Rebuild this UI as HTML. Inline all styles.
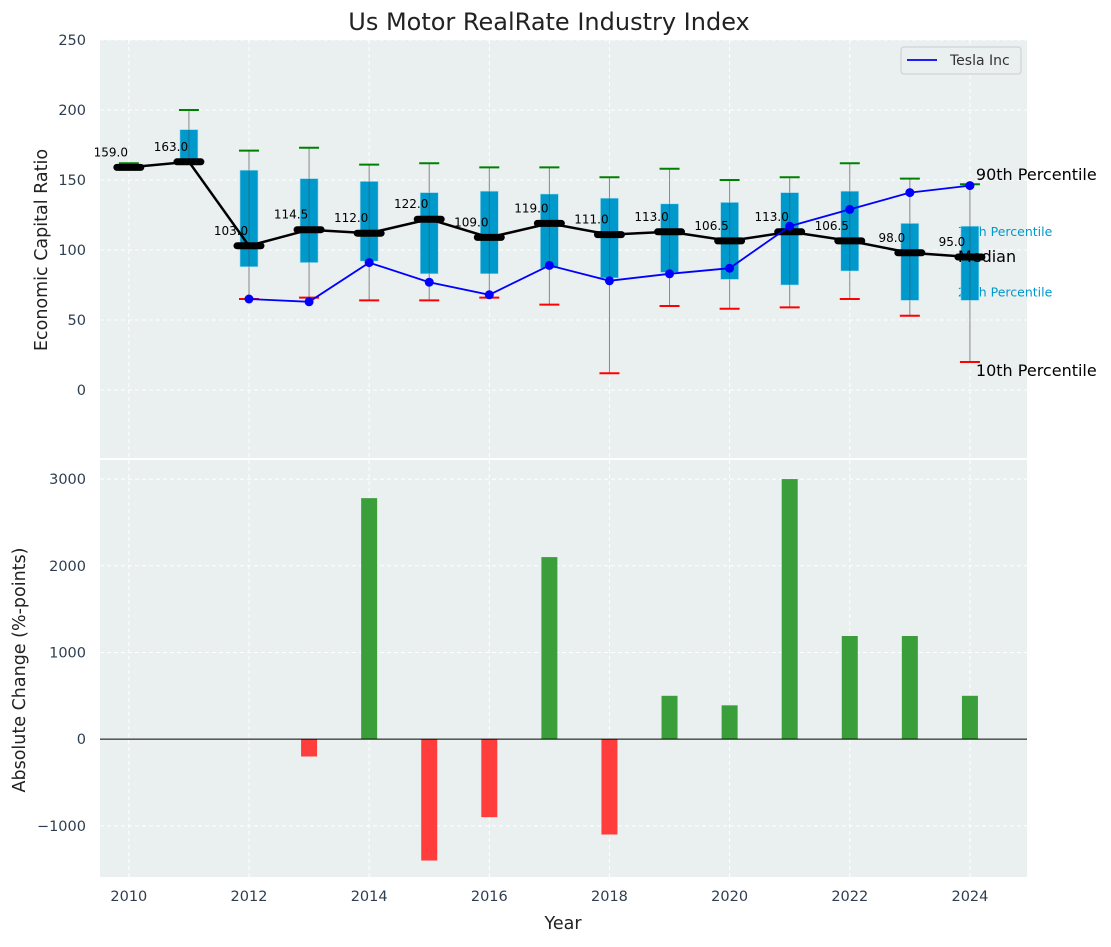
<!DOCTYPE html>
<html><head><meta charset="utf-8"><style>
body{margin:0;background:#fff;font-family:"Liberation Sans","DejaVu Sans",sans-serif}
svg text{font-family:"DejaVu Sans","Liberation Sans",sans-serif}
</style></head><body>
<svg id="c" width="1111" height="942" xmlns="http://www.w3.org/2000/svg"></svg>
<script>
const years=[2010,2011,2012,2013,2014,2015,2016,2017,2018,2019,2020,2021,2022,2023,2024];
const medians=[159,163,103,114.5,112,122,109,119,111,113,106.5,113,106.5,98,95];
const q25=[159,163,88,91,92,83,83,87,80,84,79,75,85,64,64];
const q75=[159,186,157,151,149,141,142,140,137,133,134,141,142,119,117];
const p90=[162,200,171,173,161,162,159,159,152,158,150,152,162,151,147];
const p10=[158,163,65,66,64,64,66,61,12,60,58,59,65,53,20];
const teslaYears=[2012,2013,2014,2015,2016,2017,2018,2019,2020,2021,2022,2023,2024];
const tesla=[65,63,91,77,68,89,78,83,87,117,129,141,146];
const changeYears=[2013,2014,2015,2016,2017,2018,2019,2020,2021,2022,2023,2024];
const changes=[-200,2780,-1400,-900,2100,-1100,500,390,3000,1190,1190,500];
const topTicks=[0,50,100,150,200,250];
const botTicks=[-1000,0,1000,2000,3000];
const xTicks=[2010,2012,2014,2016,2018,2020,2022,2024];

const svg=document.getElementById('c');const NS='http://www.w3.org/2000/svg';
function el(t,a,txt){const e=document.createElementNS(NS,t);for(const k in a)e.setAttribute(k,a[k]);if(txt!==undefined)e.textContent=txt;svg.appendChild(e);return e;}
const L=100,R=1027;
const x=v=>L+(v-2009.52)*(R-L)/(2024.95-2009.52);
const yT=v=>40+(250-v)*420/300;
const yB=v=>460+(3220-v)*417/4810;
const TC='#2e3e50';
let e;
e=el('rect',{x:L,y:40,width:R-L,height:418,fill:'#eaeff0'});

e=el('rect',{x:L,y:460,width:R-L,height:417,fill:'#eaeff0'});

xTicks.forEach(t=>{el('line',{x1:x(t),x2:x(t),y1:40,y2:458,stroke:'#fff','stroke-dasharray':'4,3'});el('line',{x1:x(t),x2:x(t),y1:460,y2:877,stroke:'#fff','stroke-dasharray':'4,3'});
 e=el('text',{x:x(t),y:901,'font-size':14.5,fill:TC,'text-anchor':'middle'},t);});
topTicks.forEach(t=>{el('line',{x1:L,x2:R,y1:yT(t),y2:yT(t),stroke:'#fff','stroke-dasharray':'4,3'});
 e=el('text',{x:86,y:yT(t)+5,'font-size':14.5,fill:TC,'text-anchor':'end'},t);});
botTicks.forEach(t=>{el('line',{x1:L,x2:R,y1:yB(t),y2:yB(t),stroke:'#fff','stroke-dasharray':'4,3'});
 e=el('text',{x:86,y:yB(t)+5,'font-size':14.5,fill:TC,'text-anchor':'end'},t<0?'\u2212'+(-t):t);});
const lx=x(2024)+6;
[['90th Percentile',p90[14],'#000',16,lx,-4],['75th Percentile',q75[14],'#0099cc',12.5,lx-18,10],['25th Percentile',q25[14],'#0099cc',12.5,lx-18,-4],['10th Percentile',p10[14],'#000',16,lx,14]].forEach(a=>{
 e=el('text',{x:a[4],y:yT(a[1])+a[5],'font-size':a[3],fill:a[2]},a[0]);});
years.forEach((yr,i)=>{const cx=x(yr);
 e=el('line',{x1:cx,x2:cx,y1:yT(p10[i]),y2:yT(p90[i]),stroke:'#888','stroke-width':1});
 if(q75[i]>q25[i]){e=el('rect',{x:cx-9,y:yT(q75[i]),width:18,height:yT(q25[i])-yT(q75[i]),fill:'#0099cc',stroke:'#a8dcef','stroke-width':0.6});
  el('line',{x1:cx,x2:cx,y1:yT(q75[i]),y2:yT(q25[i]),stroke:'#444','stroke-opacity':0.5});}
 e=el('line',{x1:cx-10,x2:cx+10,y1:yT(p90[i]),y2:yT(p90[i]),stroke:'green','stroke-width':2});
 e=el('line',{x1:cx-10,x2:cx+10,y1:yT(p10[i]),y2:yT(p10[i]),stroke:'red','stroke-width':2});
});
e=el('text',{x:lx-18,y:yT(medians[14])+5,'font-size':16,fill:'#000'},'Median');
e=el('polyline',{points:years.map((yr,i)=>x(yr)+','+yT(medians[i])).join(' '),fill:'none',stroke:'#000','stroke-width':2.5});

years.forEach((yr,i)=>{const cx=x(yr),cy=yT(medians[i]);
 e=el('line',{x1:cx-12,x2:cx+12,y1:cy,y2:cy,stroke:'#000','stroke-width':7,'stroke-linecap':'round'});
 e=el('text',{x:cx-18,y:cy-11,'font-size':12,fill:'#000','text-anchor':'middle'},medians[i].toFixed(1));});
e=el('polyline',{points:teslaYears.map((yr,i)=>x(yr)+','+yT(tesla[i])).join(' '),fill:'none',stroke:'blue','stroke-width':1.8});

teslaYears.forEach((yr,i)=>{e=el('circle',{cx:x(yr),cy:yT(tesla[i]),r:4.5,fill:'blue'});});
e=el('rect',{x:901,y:47,width:120,height:27,fill:'#eaeff0',stroke:'#ccc',rx:3});
el('line',{x1:907,x2:937,y1:60,y2:60,stroke:'blue','stroke-width':1.8});
e=el('text',{x:950,y:65,'font-size':14,fill:'#333'},'Tesla Inc');
changeYears.forEach((yr,i)=>{const v=changes[i];const y0=yB(0),y1=yB(v);
 e=el('rect',{x:x(yr)-8,y:Math.min(y0,y1),width:16,height:Math.abs(y1-y0),fill:v>=0?'#3a9e3a':'#ff3d3d'});});
e=el('line',{x1:L,x2:R,y1:yB(0),y2:yB(0),stroke:'#000','stroke-width':1});
e=el('text',{x:549,y:30,'font-size':24,fill:'#222','text-anchor':'middle'},'Us Motor RealRate Industry Index');
e=el('text',{x:0,y:0,'font-size':17.5,fill:'#222','text-anchor':'middle',transform:'translate(47,250) rotate(-90)'},'Economic Capital Ratio');
e=el('text',{x:0,y:0,'font-size':17.5,fill:'#222','text-anchor':'middle',transform:'translate(25,670) rotate(-90)'},'Absolute Change (%-points)');
e=el('text',{x:563,y:929,'font-size':17.5,fill:'#222','text-anchor':'middle'},'Year');
</script>
</body></html>
